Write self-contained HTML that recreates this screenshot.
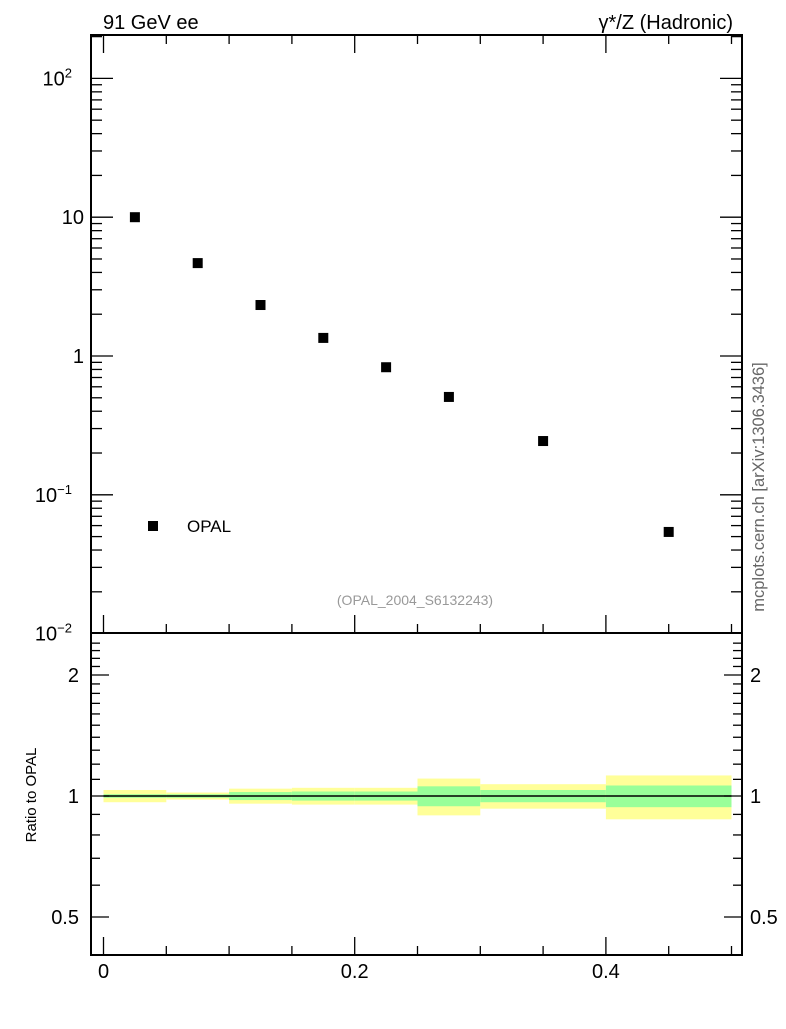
<!DOCTYPE html>
<html><head><meta charset="utf-8"><style>
body{margin:0;background:#fff;}
svg text{font-family:"Liberation Sans",sans-serif;}
</style></head><body>
<svg id="chart" width="786" height="1024" xmlns="http://www.w3.org/2000/svg">
<text x="103" y="29" font-size="20">91 GeV ee</text>
<text x="733" y="29" font-size="20" text-anchor="end">γ*/Z (Hadronic)</text>
<text x="415" y="605" font-size="14" fill="#999" text-anchor="middle">(OPAL_2004_S6132243)</text>
<text transform="translate(764,487) rotate(-90)" font-size="16.5" fill="#666" text-anchor="middle">mcplots.cern.ch [arXiv:1306.3436]</text>
<text transform="translate(36,795) rotate(-90)" font-size="15" text-anchor="middle">Ratio to OPAL</text>
<g id="main"></g>
<g id="ratio"></g>
<g id="axes"></g>
<rect x="148" y="521" width="10" height="10" fill="#000"/>
<text x="187" y="532" font-size="17">OPAL</text>
</svg>
<script>
const binEdges=[0,0.05,0.1,0.15,0.2,0.25,0.3,0.4,0.5];
const xCenters=[0.025,0.075,0.125,0.175,0.225,0.275,0.35,0.45];
const yValues=[10.0,4.67,2.33,1.35,0.83,0.507,0.244,0.054];
const yellowErr=[0.035,0.02,0.043,0.048,0.048,0.105,0.07,0.125];
const greenErr=[0.01,0.01,0.023,0.026,0.026,0.057,0.035,0.062];
const xTicks=[0,0.2,0.4];
const xTickLabels=["0","0.2","0.4"];
const ratioTicks=[0.5,1,2];
const ratioTickLabels=["0.5","1","2"];
const NS="http://www.w3.org/2000/svg";
const L=91,R=742,T=35,MB=633,RB=955;
const X=v=>103.5+v*1256;
const Y=v=>356-Math.log10(v)*138.8;
const RY=v=>796-Math.log10(v)*402;
function mk(tag,attrs,parent){const e=document.createElementNS(NS,tag);for(const k in attrs)e.setAttribute(k,attrs[k]);parent.appendChild(e);return e;}
const main=document.getElementById('main'),ratio=document.getElementById('ratio'),axes=document.getElementById('axes');
for(let i=0;i<yellowErr.length;i++){
 const x1=X(binEdges[i]),x2=X(binEdges[i+1]);
 const y=mk('rect',{x:x1,y:RY(1+yellowErr[i]),width:x2-x1,height:RY(1-yellowErr[i])-RY(1+yellowErr[i]),fill:'#ffff99'},ratio);
 
 
 const g=mk('rect',{x:x1,y:RY(1+greenErr[i]),width:x2-x1,height:RY(1-greenErr[i])-RY(1+greenErr[i]),fill:'#99ff99'},ratio);
 
 
}
const rl=mk('line',{x1:X(0),x2:X(0.5),y1:RY(1),y2:RY(1),stroke:'#000','stroke-width':1.5},ratio);


for(let i=0;i<xCenters.length;i++){
 const p=mk('rect',{x:X(xCenters[i])-5,y:Y(yValues[i])-5,width:10,height:10,fill:'#000'},main);
 
 
}
for(const [t,b] of [[T,MB],[MB,RB]]){
 const f=mk('rect',{x:L,y:t,width:R-L,height:b-t,fill:'none',stroke:'#000','stroke-width':2},axes);
 
 
}
function tick(x1,y1,x2,y2){mk('line',{x1,y1,x2,y2,stroke:'#000','stroke-width':1.3},axes);}
for(let d=-2;d<=2;d++){
 for(let m=1;m<10;m++){
  const v=m*Math.pow(10,d);const y=Y(v);
  if(y<T||y>MB)continue;
  const len=m==1?22:11;
  tick(L,y,L+len,y);tick(R,y,R-len,y);
 }
}
const mainLabels=[[100,'10','2'],[10,'10',''],[1,'1',''],[0.1,'10','−1'],[0.01,'10','−2']];
for(const [v,b,e] of mainLabels){
 const t=mk('text',{x:e?72:84,y:Y(v)+7,'font-size':20,'text-anchor':'end'},axes);
 t.textContent=b;
 if(e){const s=mk('tspan',{dy:-8,'font-size':13},t);s.textContent=e;}
 
 
}
for(let k=0;k<=10;k++){
 const v=k*0.05,x=X(v);
 const major=(k%4==0);const len=major?18:9;
 tick(x,MB,x,MB-len);tick(x,T,x,T+len);tick(x,RB,x,RB-len);
}
xTicks.forEach((v,i)=>{
 const t=mk('text',{x:X(v),y:978,'font-size':20,'text-anchor':'middle'},axes);
 t.textContent=xTickLabels[i];
 
 
});
for(let v=0.4;v<=2.5;v+=0.1){
 const y=RY(v);if(y<MB||y>RB)continue;
 const major=[0.5,1,2].some(a=>Math.abs(a-v)<1e-6);
 const len=major?18:9;tick(L,y,L+len,y);tick(R,y,R-len,y);
}
ratioTicks.forEach((v,i)=>{
 const a=mk('text',{x:79,y:RY(v)+7,'font-size':20,'text-anchor':'end'},axes);
 a.textContent=ratioTickLabels[i];
 
 
 const b=mk('text',{x:750,y:RY(v)+7,'font-size':20},axes);
 b.textContent=ratioTickLabels[i];
 
 
});
</script>
</body></html>
